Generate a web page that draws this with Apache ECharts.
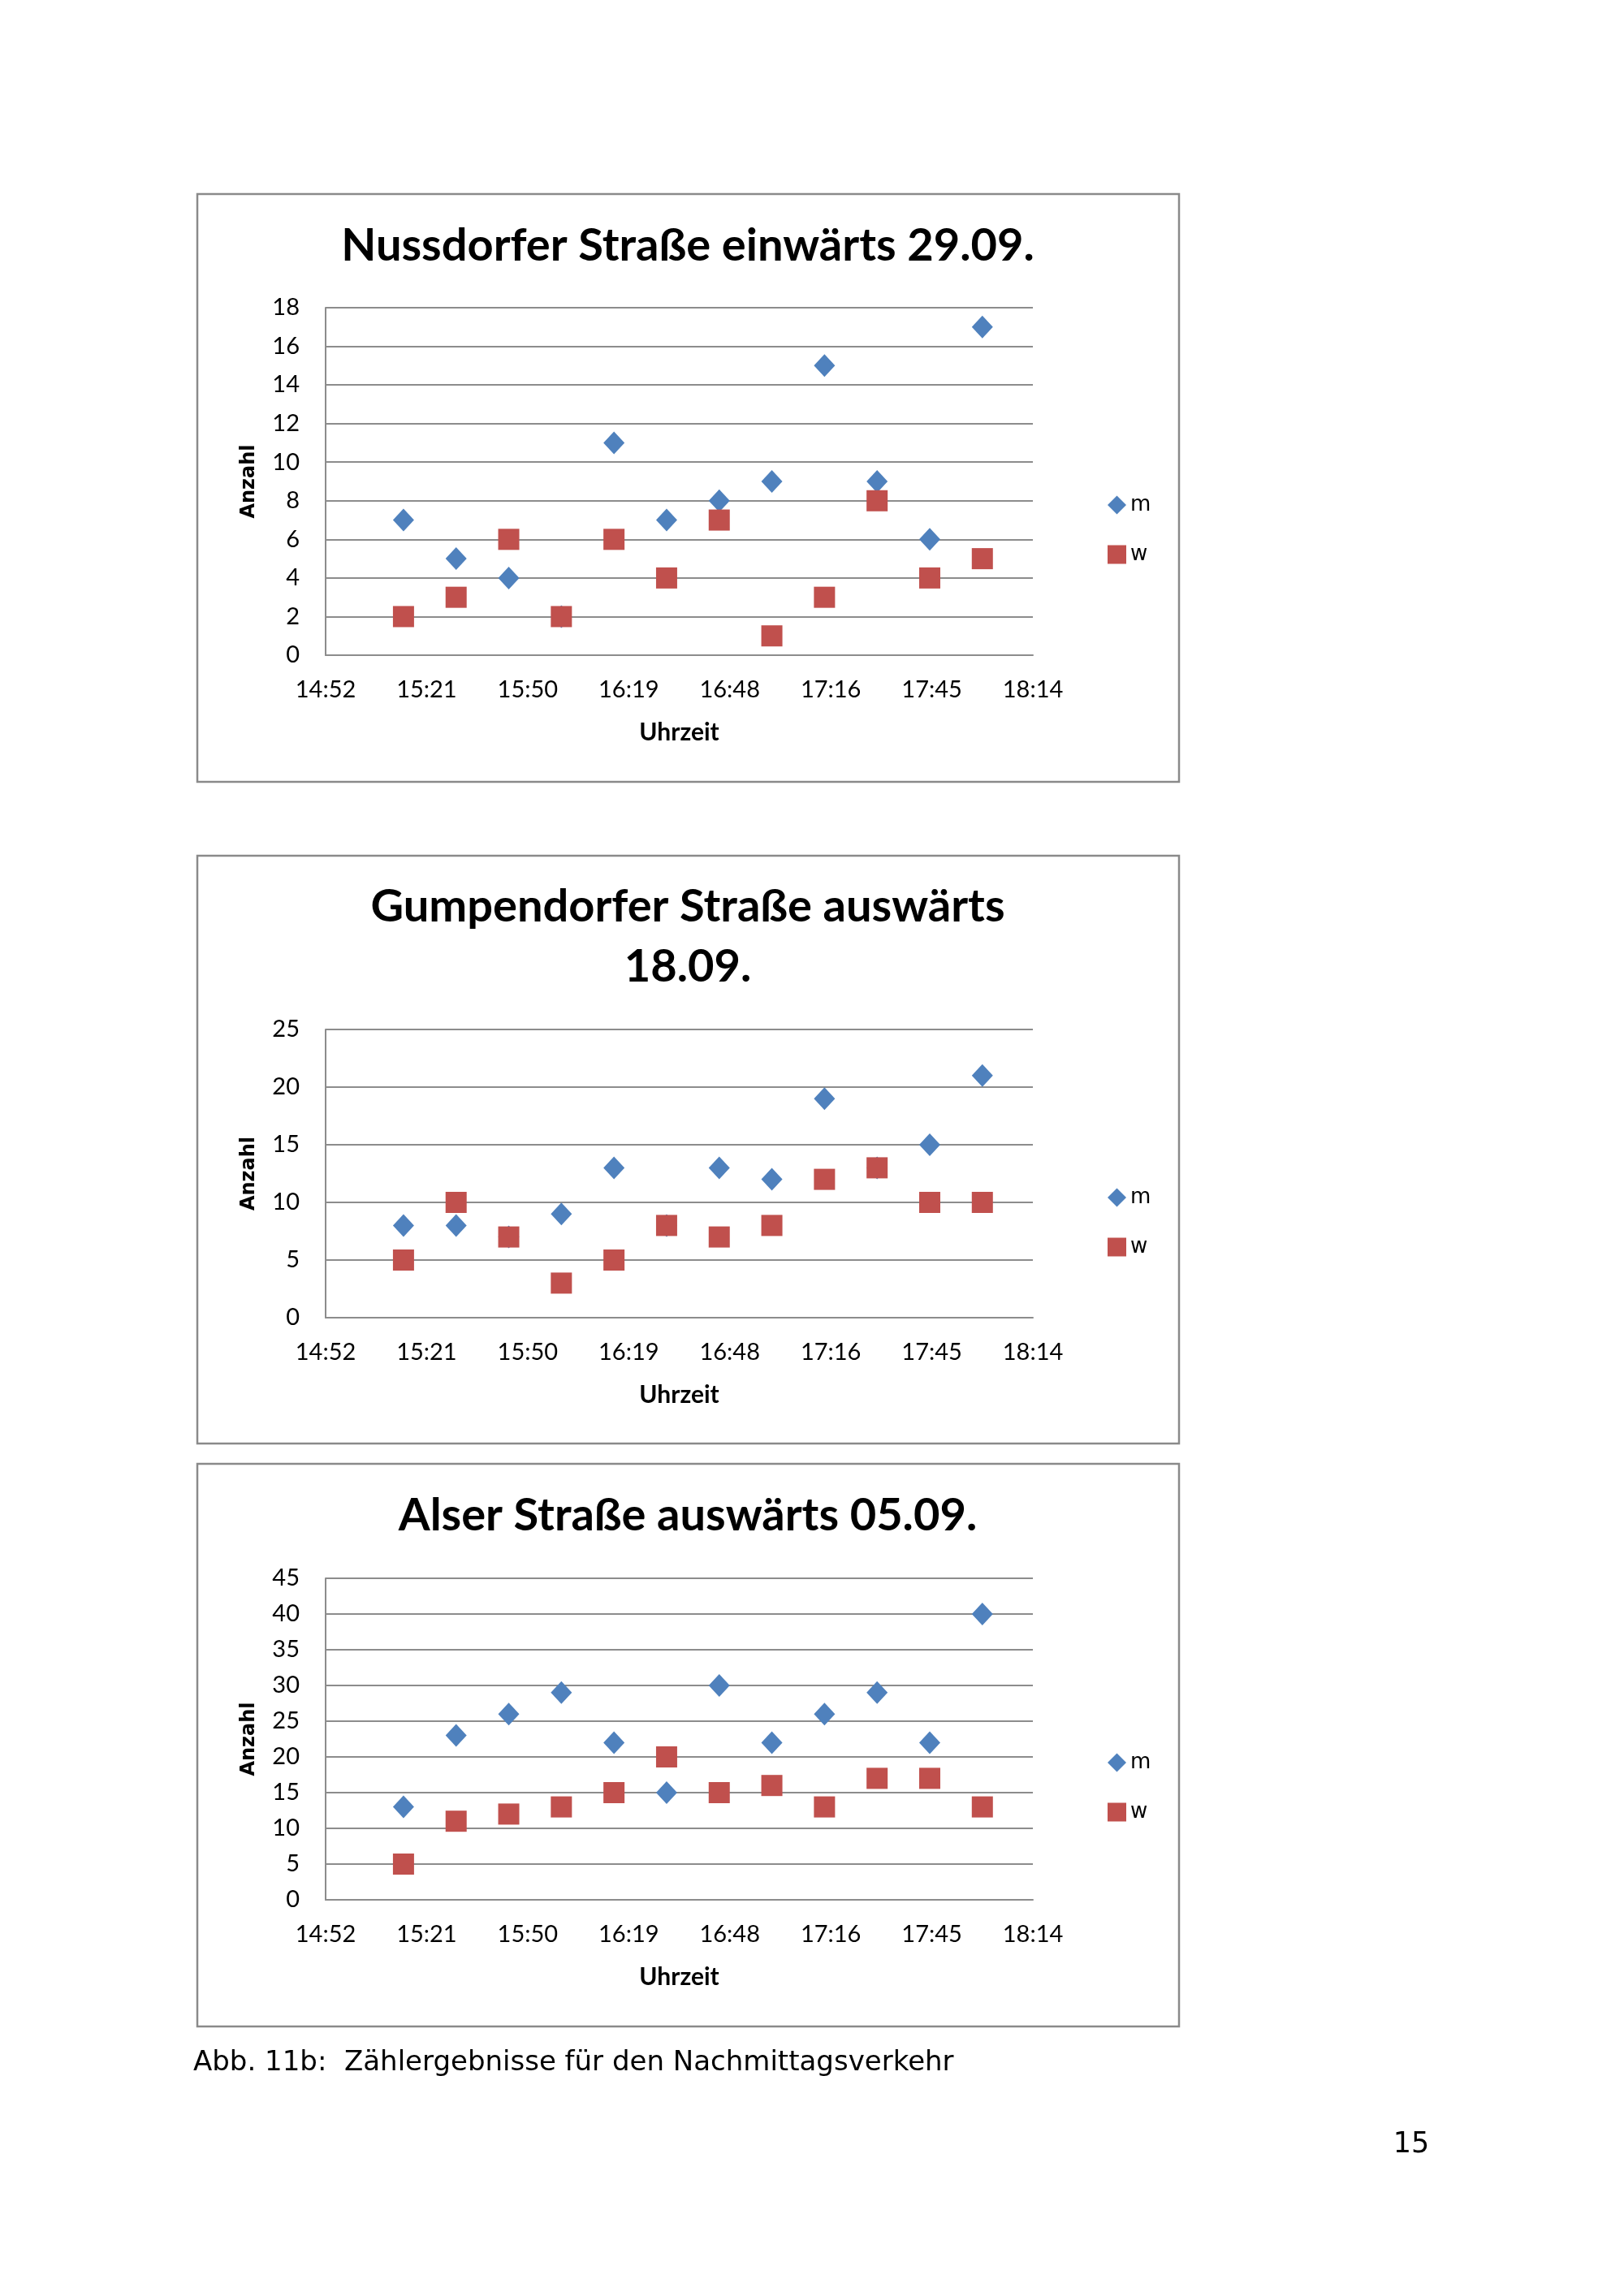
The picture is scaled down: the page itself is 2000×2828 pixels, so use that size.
<!DOCTYPE html>
<html>
<head>
<meta charset="utf-8">
<script src="https://cdn.jsdelivr.net/npm/echarts@6/dist/echarts.min.js"></script>
<style>
html,body{margin:0;padding:0;background:#fff;}
#c{width:2000px;height:2828px;}
</style>
</head>
<body>
<div id="c"></div>
<script>
// ---- data ----
const times = ['15:15','15:30','15:45','16:00','16:15','16:30','16:45','17:00','17:15','17:30','17:45','18:00'];
const xTickLabels = ['14:52','15:21','15:50','16:19','16:48','17:16','17:45','18:14'];

const titles = ['Nussdorfer Straße einwärts 29.09.', 'Gumpendorfer Straße auswärts\n18.09.', 'Alser Straße auswärts 05.09.'];

const nussM = [7, 5, 4, 2, 11, 7, 8, 9, 15, 9, 6, 17];
const nussW = [2, 3, 6, 2, 6, 4, 7, 1, 3, 8, 4, 5];

const gumpM = [8, 8, 7, 9, 13, 8, 13, 12, 19, 13, 15, 21];
const gumpW = [5, 10, 7, 3, 5, 8, 7, 8, 12, 13, 10, 10];

const alsM = [13, 23, 26, 29, 22, 15, 30, 22, 26, 29, 22, 40];
const alsW = [5, 11, 12, 13, 15, 20, 15, 16, 13, 17, 17, 13];

const yMax = [18, 25, 45];
const yInterval = [2, 5, 5];

const caption = 'Abb. 11b:  Zählergebnisse für den Nachmittagsverkehr';
const pageNo = '15';

// ---- helpers ----
// x values are fractions of a day * 100 (Excel time axis, 0.62..0.76 step 0.02)
function toX(t){ const p = t.split(':'); return (parseInt(p[0])*60 + parseInt(p[1])) / 1440 * 100; }
function fmtTime(v){
  const mins = Math.floor(v / 100 * 1440 + 1e-6);
  const h = Math.floor(mins / 60), m = mins % 60;
  return h + ':' + (m < 10 ? '0' : '') + m;
}
function pts(vals){ return times.map((t,i)=>[toX(t), vals[i]]); }

const BLUE = '#4F81BD', RED = '#C0504D', GRID = '#8C8C8C';
const FONT = 'Lato';

// layout (pixels)
const boxes = [
  {top:239, bottom:963},
  {top:1054, bottom:1778},
  {top:1803, bottom:2496}
];
const plots = [
  {top:379, bottom:807},
  {top:1268, bottom:1623},
  {top:1944, bottom:2340}
];
const titleY = [266, 1080, 1830];
const legendTop = [609, 1462, 2158];
const PL = 401, PR = 1272;

const seriesData = [[nussM, nussW],[gumpM, gumpW],[alsM, alsW]];

const grid = [], xAxis = [], yAxis = [], series = [], title = [], legend = [], graphic = [];

for (let k = 0; k < 3; k++) {
  grid.push({left: PL, top: plots[k].top, width: PR - PL, height: plots[k].bottom - plots[k].top, containLabel:false});
  xAxis.push({
    type:'value', gridIndex:k, min:62, max:76, interval:2,
    axisLine:{show:true, onZero:false, lineStyle:{color:GRID, width:2}},
    axisTick:{show:false},
    splitLine:{show:false},
    axisLabel:{formatter: fmtTime, color:'#000', fontFamily:FONT, fontSize:29, margin:28},
    name:'Uhrzeit', nameLocation:'middle', nameGap:80,
    nameTextStyle:{fontFamily:FONT, fontWeight:'bold', fontSize:30, color:'#000'}
  });
  yAxis.push({
    type:'value', gridIndex:k, min:0, max:yMax[k], interval:yInterval[k],
    axisLine:{show:true, lineStyle:{color:GRID, width:2}},
    axisTick:{show:false},
    splitLine:{show:true, lineStyle:{color:GRID, width:2}},
    axisLabel:{color:'#000', fontFamily:FONT, fontSize:29, margin:32},
    name:'Anzahl', nameLocation:'middle', nameRotate:90, nameGap:82,
    nameTextStyle:{fontFamily:'DejaVu Sans', fontWeight:'bold', fontSize:24, color:'#000'}
  });
  series.push({
    name:'m', type:'scatter', xAxisIndex:k, yAxisIndex:k, symbol:'diamond', symbolSize:[26,28],
    itemStyle:{color:BLUE, opacity:1}, data: pts(seriesData[k][0])
  });
  series.push({
    name:'w', type:'scatter', xAxisIndex:k, yAxisIndex:k, symbol:'rect', symbolSize:26,
    itemStyle:{color:RED, opacity:1}, data: pts(seriesData[k][1])
  });
  title.push({
    text: titles[k], left: 847, top: titleY[k], textAlign:'center', padding:0,
    textStyle:{fontFamily:FONT, fontWeight:'bold', fontSize:56, lineHeight:74, color:'#000'}
  });
  legend.push({
    orient:'vertical', left:1364, top:legendTop[k], itemWidth:23, itemHeight:23, itemGap:35,
    padding:0,
    data:[{name:'m', icon:'diamond'},{name:'w', icon:'rect'}],
    textStyle:{fontFamily:'DejaVu Sans', fontSize:26, color:'#000', lineHeight:26},
    selectedMode:false
  });
  graphic.push({
    type:'rect', silent:true,
    shape:{x:243, y:boxes[k].top, width:1452-243, height:boxes[k].bottom - boxes[k].top},
    style:{fill:'none', stroke:'#8A8A8A', lineWidth:2.5}
  });
}

graphic.push({type:'text', x:238, y:2541, style:{text:caption, fontFamily:'DejaVu Sans', fontSize:34, fill:'#000', align:'left', verticalAlign:'middle'}});
graphic.push({type:'text', x:1738, y:2642, style:{text:pageNo, fontFamily:'DejaVu Sans', fontSize:35, fill:'#000', align:'center', verticalAlign:'middle'}});

const chart = echarts.init(document.getElementById('c'), null, {renderer:'canvas'});
chart.setOption({
  animation:false,
  backgroundColor:'#fff',
  title, legend, grid, xAxis, yAxis, series, graphic
});
</script>
</body>
</html>
